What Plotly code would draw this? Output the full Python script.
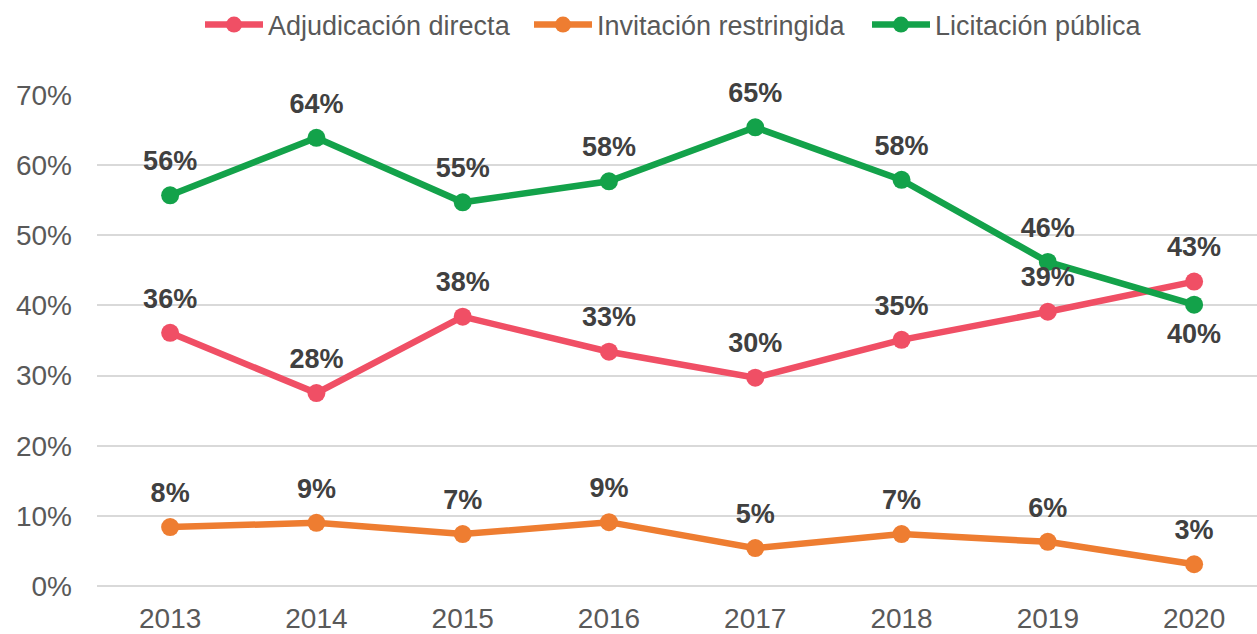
import plotly.graph_objects as go

years = ["2013", "2014", "2015", "2016", "2017", "2018", "2019", "2020"]
adjudicacion = [0.361, 0.275, 0.384, 0.334, 0.297, 0.351, 0.391, 0.434]
invitacion = [0.084, 0.090, 0.074, 0.091, 0.054, 0.074, 0.063, 0.031]
licitacion = [0.557, 0.639, 0.547, 0.577, 0.654, 0.579, 0.462, 0.401]

names = ["Adjudicación directa", "Invitación restringida", "Licitación pública"]
colors = ["#F04F65", "#EE7D31", "#13A24A"]
series = [adjudicacion, invitacion, licitacion]
label_pos = [
    ["top center"] * 8,
    ["top center"] * 8,
    ["top center"] * 7 + ["bottom center"],
]
legend_ids = ["legend", "legend2", "legend3"]
legend_x = [200, 529, 867]

fig = go.Figure()
for name, col, vals, lg in zip(names, colors, series, legend_ids):
    fig.add_trace(go.Scatter(
        x=years, y=vals, name=name, mode="lines+markers",
        line=dict(color=col, width=6.5),
        marker=dict(color=col, size=18),
        cliponaxis=False, legend=lg,
    ))

for vals, pos in zip(series, label_pos):
    fig.add_trace(go.Scatter(
        x=years, y=vals, mode="markers+text", showlegend=False, hoverinfo="skip",
        marker=dict(size=28, color="rgba(0,0,0,0)"),
        text=["<b>%d%%</b>" % round(v * 100) for v in vals],
        textposition=pos,
        textfont=dict(family="Liberation Sans", size=27, color="#404040"),
        cliponaxis=False,
    ))

legend_common = dict(
    orientation="h", xref="container", xanchor="left",
    yref="container", y=1 - 25 / 634, yanchor="middle",
    font=dict(size=27, color="#595959"), itemwidth=58,
    bgcolor="rgba(0,0,0,0)",
)

fig.update_layout(
    width=1257, height=634,
    margin=dict(l=97, r=0, t=95, b=48),
    plot_bgcolor="white", paper_bgcolor="white",
    font=dict(family="Liberation Sans", size=28, color="#595959"),
    showlegend=True,
    legend=dict(x=legend_x[0] / 1257, **legend_common),
    legend2=dict(x=legend_x[1] / 1257, **legend_common),
    legend3=dict(x=legend_x[2] / 1257, **legend_common),
    xaxis=dict(
        type="category", range=[-0.5, 7.43], showgrid=False, showline=False,
        ticks="", tickfont=dict(size=28, color="#595959"), ticklabelstandoff=13,
    ),
    yaxis=dict(
        range=[0, 0.7], tickvals=[0, 0.1, 0.2, 0.3, 0.4, 0.5, 0.6, 0.7],
        tickformat=".0%", showgrid=True, gridcolor="#D9D9D9", gridwidth=2,
        zeroline=True, zerolinecolor="#D9D9D9", zerolinewidth=2,
        showline=False, ticks="", tickfont=dict(size=28, color="#595959"),
        ticklabelstandoff=24,
    ),
)

fig.write_html("out.html")
